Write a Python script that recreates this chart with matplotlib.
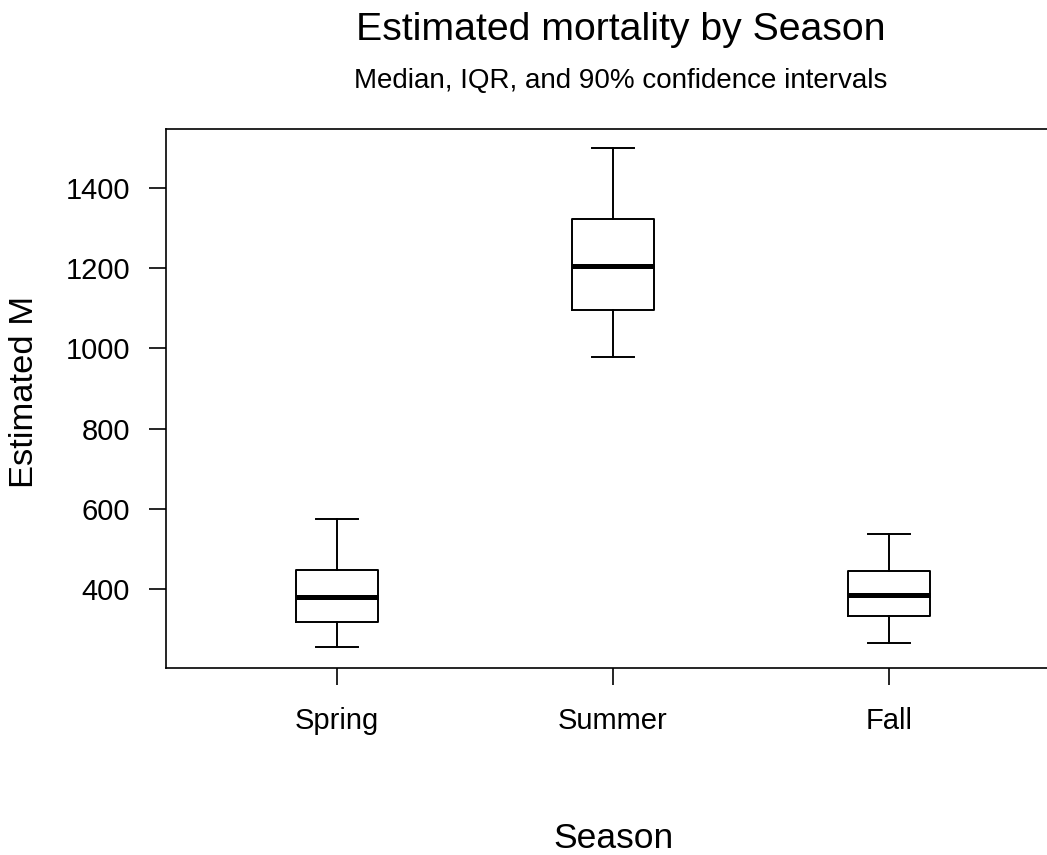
import matplotlib
matplotlib.use("Agg")
import matplotlib.pyplot as plt

plt.rcParams['font.family'] = ['Liberation Sans', 'DejaVu Sans']

seasons = ["Spring", "Summer", "Fall"]
ci_low = [255, 979, 265]
q1 = [318, 1096, 333]
median = [381, 1205, 385]
q3 = [447, 1323, 445]
ci_high = [575, 1500, 537]
y_ticks = [400, 600, 800, 1000, 1200, 1400]

stats = []
for i, s in enumerate(seasons):
    stats.append({"label": s, "whislo": ci_low[i], "q1": q1[i], "med": median[i],
                  "q3": q3[i], "whishi": ci_high[i], "fliers": []})

fig = plt.figure(figsize=(10.47, 8.55), dpi=100)
# right edge of plot box runs past the figure, as in the cropped original
ax = fig.add_axes([166 / 1047, 187 / 855, 894 / 1047, 539 / 855])

ax.bxp(stats, positions=[1, 2, 3], widths=0.3, capwidths=0.15, showfliers=False,
       boxprops=dict(color="black", linewidth=1.4),
       whiskerprops=dict(color="black", linewidth=1.4),
       capprops=dict(color="black", linewidth=1.4),
       medianprops=dict(color="black", linewidth=3.6))

ax.set_xlim(0.38, 3.62)
ax.set_ylim(203, 1547)
ax.set_yticks(y_ticks)
ax.set_xticks([1, 2, 3])
ax.set_xticklabels(seasons)
for sp in ax.spines.values():
    sp.set_linewidth(1.2)
ax.tick_params(axis="both", labelsize=21, length=12, width=1.2, pad=14)
ax.tick_params(axis="x", pad=16)

fig.text(621 / 1047, 1 - 40 / 855, "Estimated mortality by Season", ha="center",
         va="baseline", fontsize=28.3)
fig.text(621 / 1047, 1 - 88 / 855, "Median, IQR, and 90% confidence intervals",
         ha="center", va="baseline", fontsize=20)
fig.text(613 / 1047, 1 - 848 / 855, "Season", ha="center", va="baseline", fontsize=25.5)
fig.text(25 / 1047, 1 - 392 / 855, "Estimated M", ha="center", va="center",
         rotation=90, fontsize=24.8)

fig.savefig("out.png", dpi=100)
